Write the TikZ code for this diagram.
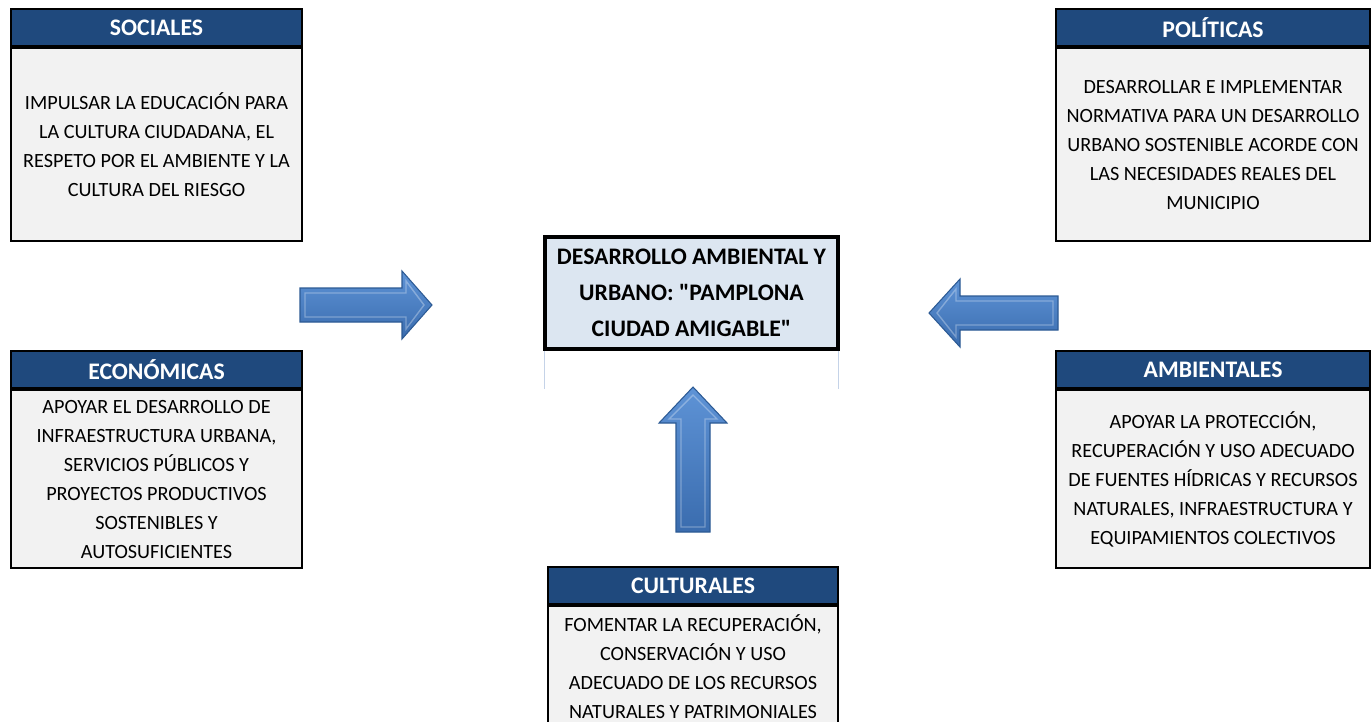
\documentclass[tikz,border=0pt]{standalone}
\usepackage{fontspec}
\setmainfont{Carlito}
\usepackage{xcolor}
\usepackage{tikz}
\usetikzlibrary{calc,positioning}
\definecolor{navy}{HTML}{1F497D}
\definecolor{paper}{HTML}{F2F2F2}
\definecolor{goalfill}{HTML}{DCE6F1}
\definecolor{arrowtop}{HTML}{5E93D6}
\definecolor{arrowbot}{HTML}{3A6CAE}
\definecolor{arrowdark}{HTML}{2C5A94}
\definecolor{gridline}{HTML}{C5D3E8}

\begin{document}
\begin{tikzpicture}[x=0.02cm, y=-0.02cm,
  hdr/.style={draw=black, line width=1.2pt, fill=navy, text=white, inner sep=0pt,
    font=\fontsize{13.5}{15}\selectfont\bfseries, minimum height=0.74cm, anchor=north west},
  txt/.style={draw=black, line width=1.2pt, fill=paper, inner sep=0pt, align=center,
    font=\fontsize{11.5}{16.5}\selectfont},
  goal/.style={draw=black, line width=2pt, fill=goalfill, inner sep=0pt, align=center,
    font=\fontsize{13.5}{20.5}\selectfont\bfseries, minimum width=5.86cm, minimum height=2.24cm}]
\path[use as bounding box, clip] (0,0) rectangle (1372,721);
% Left column
\node[hdr, minimum width=5.82cm] (soc) at (10,8) {SOCIALES};
\node[txt, minimum width=5.82cm, minimum height=3.86cm, below=0pt of soc] (socb)
  {IMPULSAR LA EDUCACIÓN PARA\\LA CULTURA CIUDADANA, EL\\RESPETO POR EL AMBIENTE Y LA\\CULTURA DEL RIESGO};
\node[hdr, minimum width=5.82cm] (eco) at (10,350) {ECONÓMICAS};
\node[txt, minimum width=5.82cm, minimum height=3.56cm, below=0pt of eco] (ecob)
  {APOYAR EL DESARROLLO DE\\INFRAESTRUCTURA URBANA,\\SERVICIOS PÚBLICOS Y\\PROYECTOS PRODUCTIVOS\\SOSTENIBLES Y\\AUTOSUFICIENTES};
% Right column
\node[hdr, minimum width=6.28cm] (pol) at (1055,8) {POLÍTICAS};
\node[txt, minimum width=6.28cm, minimum height=3.86cm, below=0pt of pol] (polb)
  {DESARROLLAR E IMPLEMENTAR\\NORMATIVA PARA UN DESARROLLO\\URBANO SOSTENIBLE ACORDE CON\\LAS NECESIDADES REALES DEL\\MUNICIPIO};
\node[hdr, minimum width=6.28cm] (amb) at (1055,350) {AMBIENTALES};
\node[txt, minimum width=6.28cm, minimum height=3.56cm, below=0pt of amb] (ambb)
  {APOYAR LA PROTECCIÓN,\\RECUPERACIÓN Y USO ADECUADO\\DE FUENTES HÍDRICAS Y RECURSOS\\NATURALES, INFRAESTRUCTURA Y\\EQUIPAMIENTOS COLECTIVOS};
% Bottom
\node[hdr, minimum width=5.80cm] (cul) at (547,566) {CULTURALES};
\node[txt, minimum width=5.80cm, minimum height=2.40cm, below=0pt of cul] (culb)
  {FOMENTAR LA RECUPERACIÓN,\\CONSERVACIÓN Y USO\\ADECUADO DE LOS RECURSOS\\NATURALES Y PATRIMONIALES};
% Centre
\node[goal] (goal) at (691.5,293)
  {DESARROLLO AMBIENTAL Y\\URBANO: \textquotedbl PAMPLONA\\CIUDAD AMIGABLE\textquotedbl};
\draw[gridline, line width=0.6pt] ($(goal.south west)+(1,0)$) -- ++(0,38);
\draw[gridline, line width=0.6pt] ($(goal.south east)+(-1,0)$) -- ++(0,38);
% Block arrows
\foreach \x/\y/\a/\l/\h in {300/305/0/102/30, 1058/313/180/98/31, 693/532/90/109/36} {
  \begin{scope}[shift={(\x,\y)}, rotate=\a]
    \shade[top color=arrowtop, bottom color=arrowbot, draw=arrowdark, line width=0.6pt]
      (0,-17) -- (\l,-17) -- (\l,-34) -- ({\l+\h},0) -- (\l,34) -- (\l,17) -- (0,17) -- cycle;
    \draw[white, opacity=0.3, line width=0.8pt]
      (5,-12) -- ({\l+4},-12) -- ({\l+4},-24) -- ({\l+\h-8},0) -- ({\l+4},24) -- ({\l+4},12) -- (5,12) -- cycle;
  \end{scope}
}
\end{tikzpicture}
\end{document}
